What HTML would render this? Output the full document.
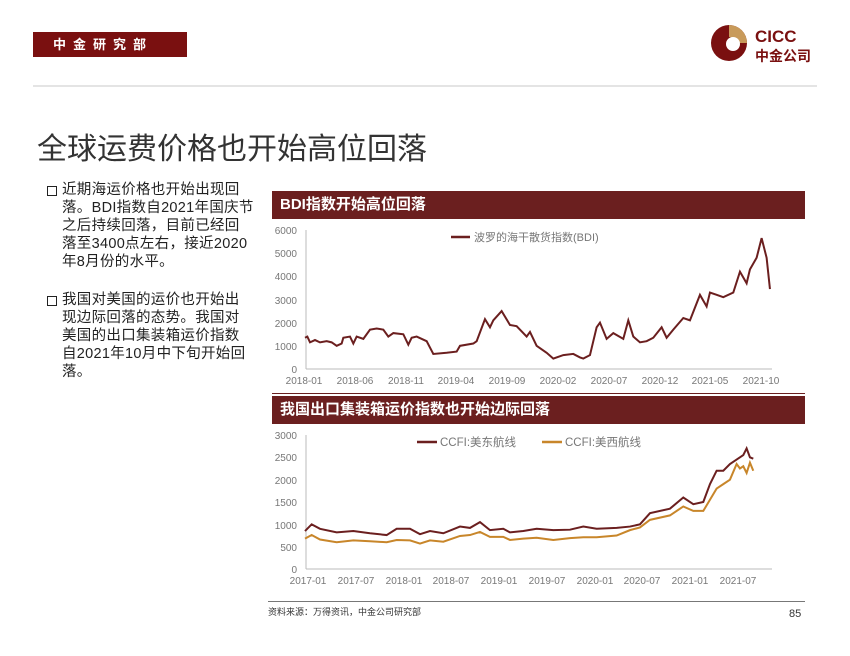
<!DOCTYPE html>
<html><head><meta charset="utf-8"><style>
body{margin:0;width:850px;height:656px;background:#fff;position:relative;overflow:hidden;font-family:"Liberation Sans","Noto Sans CJK SC",sans-serif}
.a{position:absolute}
.bl{font-size:14.5px;line-height:18px;color:#222;white-space:nowrap;letter-spacing:0.3px}
</style></head><body>
<div class="a" style="left:33px;top:32px;width:154px;height:25px;background:#7a1010;color:#fff;font-size:13px;font-weight:bold;line-height:25px;letter-spacing:7px;text-indent:20px">中金研究部</div>
<svg class="a" style="left:705px;top:22px" width="120" height="45">
<circle cx="24" cy="21" r="18" fill="#7a1010"/>
<path d="M24 3 A18 18 0 0 1 42 21 L30 21 A6 6 0 0 0 24 15 Z" fill="#c89a5a"/>
<circle cx="28" cy="22" r="7" fill="#fff"/>
<text x="50" y="20" font-size="17" font-weight="bold" fill="#7a1010" font-family="Liberation Sans">CICC</text>
<text x="50" y="39" font-size="14" font-weight="bold" fill="#7a1010" font-family="Noto Sans CJK SC">中金公司</text>
</svg>
<div class="a" style="left:33px;top:85px;width:784px;height:2px;background:#e4e4e4"></div>
<div class="a" style="left:37px;top:124px;font-size:30px;color:#333">全球运费价格也开始高位回落</div>
<div class="a" style="left:47px;top:186px;width:8px;height:8px;border:1.5px solid #222"></div>
<div class="a bl" style="left:62px;top:181px">近期海运价格也开始出现回<br>落。BDI指数自2021年国庆节<br>之后持续回落，目前已经回<br>落至3400点左右，接近2020<br>年8月份的水平。</div>
<div class="a" style="left:47px;top:296px;width:8px;height:8px;border:1.5px solid #222"></div>
<div class="a bl" style="left:62px;top:291px">我国对美国的运价也开始出<br>现边际回落的态势。我国对<br>美国的出口集装箱运价指数<br>自2021年10月中下旬开始回<br>落。</div>
<div class="a" style="left:272px;top:191px;width:533px;height:28px;background:#6b1f1f;color:#fff;font-size:15px;font-weight:bold;line-height:28px;text-indent:8px">BDI指数开始高位回落</div>
<div class="a" style="left:272px;top:396px;width:533px;height:28px;background:#6b1f1f;color:#fff;font-size:15px;font-weight:bold;line-height:28px;text-indent:8px">我国出口集装箱运价指数也开始边际回落</div>
<div class="a" style="left:272px;top:393px;width:533px;height:1px;background:#6b1f1f"></div>
<div class="a" style="left:268px;top:601px;width:537px;height:1px;background:#777"></div>
<div class="a" style="left:268px;top:605px;font-size:9px;color:#333">资料来源：万得资讯，中金公司研究部</div>
<div class="a" style="left:789px;top:608px;font-size:11px;color:#333">85</div>
<svg class="a" style="left:0;top:0" width="850" height="656" font-family="Liberation Sans" font-size="10" fill="#777">
<g text-anchor="end">
<text x="297" y="234">6000</text><text x="297" y="257">5000</text><text x="297" y="280">4000</text><text x="297" y="304">3000</text><text x="297" y="327">2000</text><text x="297" y="350">1000</text><text x="297" y="373">0</text>
<text x="297" y="439">3000</text><text x="297" y="461">2500</text><text x="297" y="484">2000</text><text x="297" y="506">1500</text><text x="297" y="529">1000</text><text x="297" y="551">500</text><text x="297" y="573">0</text>
</g>
<line x1="306" y1="230" x2="306" y2="369" stroke="#bbb"/><line x1="306" y1="369" x2="772" y2="369" stroke="#bbb"/>
<line x1="306" y1="435" x2="306" y2="569" stroke="#bbb"/><line x1="306" y1="569" x2="772" y2="569" stroke="#bbb"/>
<g text-anchor="middle">
<text x="304" y="384">2018-01</text><text x="355" y="384">2018-06</text><text x="406" y="384">2018-11</text><text x="456" y="384">2019-04</text><text x="507" y="384">2019-09</text><text x="558" y="384">2020-02</text><text x="609" y="384">2020-07</text><text x="660" y="384">2020-12</text><text x="710" y="384">2021-05</text><text x="761" y="384">2021-10</text>
<text x="308" y="584">2017-01</text><text x="356" y="584">2017-07</text><text x="404" y="584">2018-01</text><text x="451" y="584">2018-07</text><text x="499" y="584">2019-01</text><text x="547" y="584">2019-07</text><text x="595" y="584">2020-01</text><text x="642" y="584">2020-07</text><text x="690" y="584">2021-01</text><text x="738" y="584">2021-07</text>
</g>
<line x1="451" y1="237" x2="470" y2="237" stroke="#6b1f1f" stroke-width="2.5"/>
<text x="474" y="241" font-size="11" font-family="Liberation Sans,Noto Sans CJK SC">波罗的海干散货指数(BDI)</text>
<line x1="417" y1="442" x2="437" y2="442" stroke="#6b1f1f" stroke-width="2.5"/>
<text x="440" y="446" font-size="11.5" font-family="Liberation Sans,Noto Sans CJK SC">CCFI:美东航线</text>
<line x1="542" y1="442" x2="562" y2="442" stroke="#c8862a" stroke-width="2.5"/>
<text x="565" y="446" font-size="11.5" font-family="Liberation Sans,Noto Sans CJK SC">CCFI:美西航线</text>
<g transform="matrix(0.3333,0,0,-0.02317,270,369)" fill="none" stroke="#6b1f1f" stroke-width="2">
<polyline vector-effect="non-scaling-stroke" points="105,1350 112,1400 120,1150 135,1250 150,1150 170,1200 185,1150 200,1000 215,1100 220,1350 240,1400 250,1100 260,1400 280,1300 300,1700 320,1750 340,1700 355,1400 370,1550 400,1500 415,1050 425,1350 440,1400 470,1200 490,650 530,700 560,750 570,1000 610,1100 620,1200 645,2150 660,1800 670,2100 695,2500 720,1900 740,1850 770,1400 780,1600 800,1000 830,700 850,450 880,600 910,650 930,500 940,450 960,600 980,1800 990,2000 1010,1300 1030,1550 1060,1300 1075,2100 1090,1400 1110,1150 1130,1200 1150,1350 1175,1800 1190,1350 1210,1700 1240,2200 1260,2100 1290,3200 1310,2700 1320,3300 1340,3200 1360,3100 1390,3300 1410,4200 1430,3700 1440,4300 1460,4800 1475,5650 1490,4800 1500,3450"/>
</g>
<g transform="matrix(0.3333,0,0,-0.04467,270,569)" fill="none" stroke-width="2">
<polyline vector-effect="non-scaling-stroke" stroke="#c8862a" points="105,680 125,760 150,660 200,600 250,640 300,620 350,600 380,650 420,640 450,570 480,640 520,610 570,740 600,760 630,830 660,720 700,720 720,650 760,680 800,700 850,650 900,690 940,710 980,710 1040,750 1080,870 1110,930 1140,1100 1200,1200 1240,1400 1270,1300 1300,1300 1320,1550 1340,1800 1360,1900 1380,2000 1400,2350 1410,2250 1420,2300 1430,2150 1440,2380 1450,2200"/>
<polyline vector-effect="non-scaling-stroke" stroke="#6b1f1f" points="105,850 125,1000 150,900 200,820 250,850 300,800 350,760 380,900 420,900 450,780 480,850 520,800 570,950 600,920 630,1050 660,870 700,900 720,820 760,850 800,900 850,870 900,880 940,950 980,900 1040,920 1080,950 1110,1000 1140,1250 1200,1350 1240,1600 1270,1450 1300,1500 1320,1900 1340,2200 1360,2200 1380,2350 1400,2450 1420,2550 1430,2700 1440,2500 1450,2470"/>
</g>
</svg>
</body></html>
